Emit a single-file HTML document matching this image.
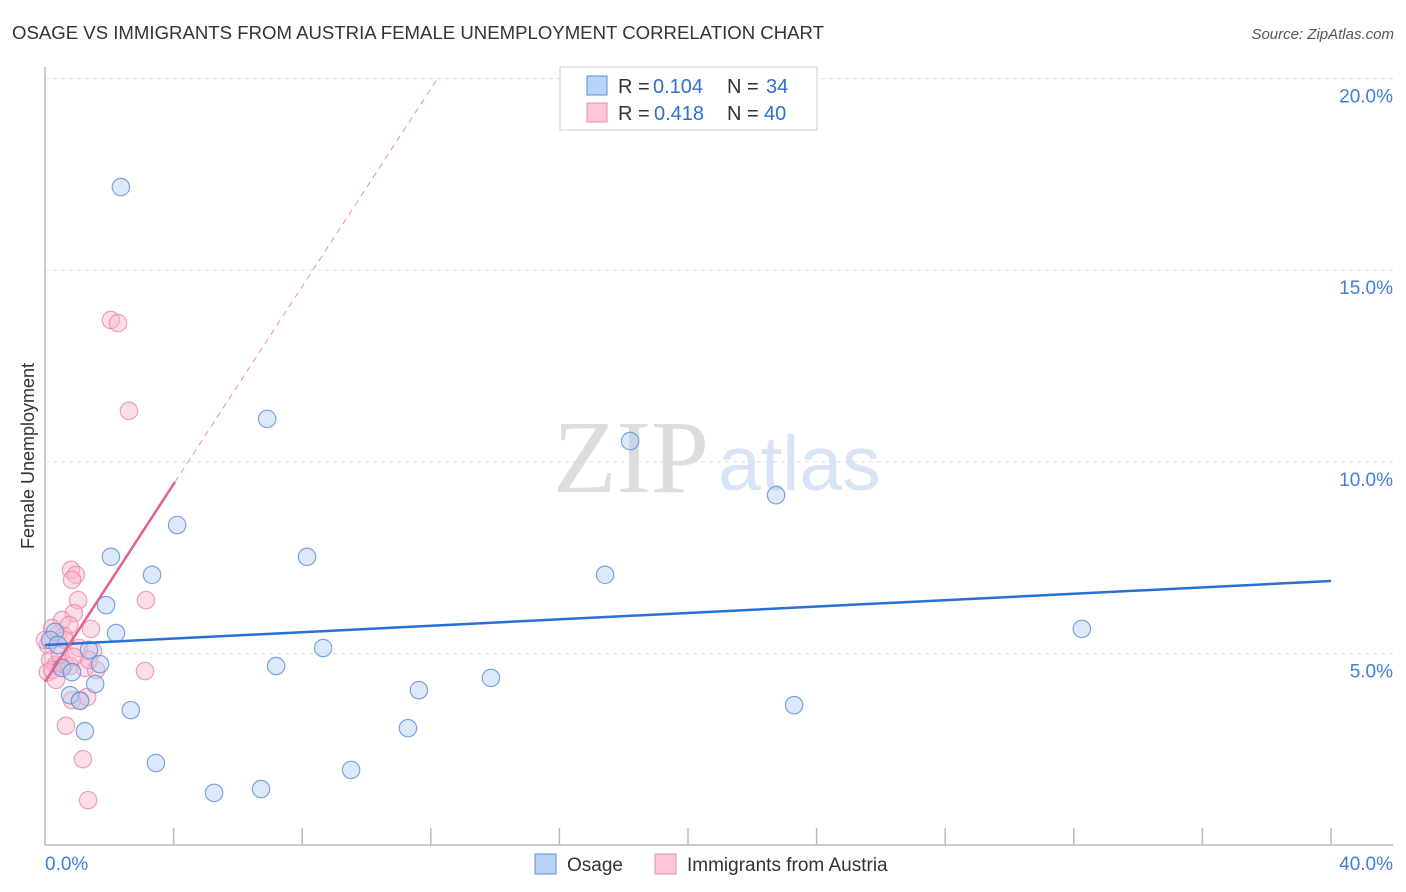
<!DOCTYPE html>
<html><head><meta charset="utf-8"><style>
body{margin:0;background:#fff;font-family:"Liberation Sans",sans-serif;}
svg{display:block}
</style></head><body>
<svg id="c" width="1406" height="892">
<text x="12" y="39" font-size="18" fill="#333" textLength="812" lengthAdjust="spacingAndGlyphs">OSAGE VS IMMIGRANTS FROM AUSTRIA FEMALE UNEMPLOYMENT CORRELATION CHART</text>
<text x="1394" y="39" font-size="15" fill="#555" text-anchor="end" font-style="italic">Source: ZipAtlas.com</text>
<text x="553" y="492" font-size="104" fill="#ddd" font-family="Liberation Serif,serif">ZIP</text>
<text x="718" y="490" font-size="77" fill="#d6e4f5">atlas</text>
<text transform="translate(34,456) rotate(-90)" font-size="18" fill="#333" text-anchor="middle">Female Unemployment</text>
<g id="grid"></g><g id="marks"></g>
<g>
<rect x="560" y="67" width="257" height="63" fill="#fff" stroke="#ccc"/>
<rect x="587" y="76" width="20" height="19" fill="#b8d3f5" stroke="#5b8fd9"/>
<rect x="587" y="103" width="20" height="19" fill="#fcc8d8" stroke="#e88fab"/>
<text x="618" y="93" font-size="20" fill="#333">R =</text>
<text x="653" y="93" font-size="20" fill="#2f6fd0">0.104</text>
<text x="727" y="93" font-size="20" fill="#333">N =</text>
<text x="766" y="93" font-size="20" fill="#2f6fd0">34</text>
<text x="618" y="120" font-size="20" fill="#333">R =</text>
<text x="654" y="120" font-size="20" fill="#2f6fd0">0.418</text>
<text x="727" y="120" font-size="20" fill="#333">N =</text>
<text x="764" y="120" font-size="20" fill="#2f6fd0">40</text>
</g>
<g>
<rect x="535" y="854" width="21" height="20" fill="#b8d3f5" stroke="#5b8fd9"/>
<text x="567" y="871" font-size="19" fill="#333">Osage</text>
<rect x="655" y="854" width="21" height="20" fill="#fcc8d8" stroke="#e88fab"/>
<text x="687" y="871" font-size="19" fill="#333">Immigrants from Austria</text>
</g>
</svg>
<script>
const xTicks=[0,4,8,12,16,20,24,28,32,36,40];
const yTicks=[5,10,15,20];
const osageX=[2.36,6.91,18.20,22.74,4.11,2.05,8.15,3.33,17.42,1.90,2.21,32.25,8.65,1.37,1.71,7.19,1.56,11.63,13.87,0.78,1.09,2.67,23.30,11.29,1.24,3.45,9.52,5.26,6.72,0.31,0.16,0.53,0.84,0.40];
const osageY=[17.17,11.12,10.54,9.13,8.35,7.52,7.52,7.05,7.05,6.26,5.53,5.64,5.14,5.09,4.72,4.67,4.20,4.04,4.36,3.91,3.76,3.52,3.65,3.05,2.97,2.14,1.96,1.36,1.46,5.56,5.35,4.62,4.51,5.22];
const austriaX=[2.05,2.27,2.61,0.81,0.96,0.84,1.03,3.14,0.90,0.53,0.75,1.43,0.40,0.22,0.59,1.06,1.49,0.16,0.34,0.47,0.62,0.09,0.22,0.78,1.24,1.59,3.11,1.37,0.34,0.84,1.09,1.31,0.65,1.18,1.34,0.09,0.47,0.90,0.0,0.62];
const austriaY=[13.70,13.62,11.33,7.18,7.05,6.92,6.39,6.39,6.05,5.87,5.74,5.64,5.50,5.66,5.45,5.14,5.06,4.83,4.70,4.62,4.72,4.51,4.57,4.67,4.62,4.57,4.54,4.83,4.31,3.78,3.78,3.86,3.11,2.24,1.17,5.22,4.96,4.91,5.35,5.35];
const osageTrend=[5.22,6.89];      // y at x=0 and x=40
const austriaTrend=[4.26,9.47];    // y at x=0 and x=4.04
const austriaTrendEndX=4.04;
const NS="http://www.w3.org/2000/svg";
const X=v=>45+v/40*1286, Y=v=>845-v/5*191.6;
const grid=document.getElementById('grid'), marks=document.getElementById('marks');
function mk(tag,attrs,parent){const e=document.createElementNS(NS,tag);for(const k in attrs)e.setAttribute(k,attrs[k]);parent.appendChild(e);return e;}
let ax=mk('line',{x1:45,y1:67,x2:45,y2:845,stroke:'#bbb','stroke-width':1.5},grid);


let bx=mk('line',{x1:45,y1:845,x2:1393,y2:845,stroke:'#bbb','stroke-width':1.5},grid);


yTicks.forEach(t=>{
 let g=mk('line',{x1:45,x2:1393,y1:Y(t),y2:Y(t),stroke:'#ddd','stroke-dasharray':'4,4'},grid);
 
 
 let l=mk('text',{x:1393,y:Y(t)+24,'font-size':19,fill:'#3f7fd4','text-anchor':'end'},grid);l.textContent=t.toFixed(1)+'%';
 
 
});
xTicks.forEach(t=>{
 if(t>0){let k=mk('line',{x1:X(t),x2:X(t),y1:828,y2:845,stroke:'#bbb','stroke-width':1.5},grid);
 
 }
});
[[0,'start',45],[40,'end',1393]].forEach(([t,a,x])=>{let l=mk('text',{x:x,y:870,'font-size':19,fill:'#3f7fd4','text-anchor':a},grid);l.textContent=t.toFixed(1)+'%';
 
 });
function pts(xs,ys,fill,stroke,name){xs.forEach((x,i)=>{let c=mk('circle',{cx:X(x),cy:Y(ys[i]),r:8.7,fill:fill,'fill-opacity':0.45,stroke:stroke,'stroke-opacity':0.8,'stroke-width':1.2},marks);
 
 });}
pts(austriaX,austriaY,'#f9b6cb','#ea8aa8','austria-point');
pts(osageX,osageY,'#b3cff3','#5b8fd9','osage-point');
let bt=mk('line',{x1:X(0),y1:Y(osageTrend[0]),x2:X(40),y2:Y(osageTrend[1]),stroke:'#2a6fd6','stroke-width':2.5},marks);


const slope=(austriaTrend[1]-austriaTrend[0])/austriaTrendEndX;
const yTop=20;
const xTop=(yTop-austriaTrend[0])/slope;
let pd=mk('line',{x1:X(austriaTrendEndX),y1:Y(austriaTrend[1]),x2:X(xTop),y2:Y(yTop),stroke:'#e890ad','stroke-width':1,'stroke-dasharray':'6,5'},marks);


let pt=mk('line',{x1:X(0),y1:Y(austriaTrend[0]),x2:X(austriaTrendEndX),y2:Y(austriaTrend[1]),stroke:'#e2628f','stroke-width':2.5},marks);


</script>
</body></html>
